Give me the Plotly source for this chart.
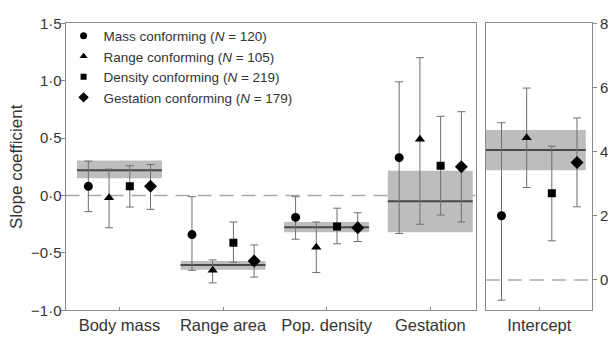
import plotly.graph_objects as go

categories = ["Body mass", "Range area", "Pop. density", "Gestation"]
series_names = ["Mass conforming", "Range conforming", "Density conforming", "Gestation conforming"]
series_n = [120, 105, 219, 179]
symbols = ["circle", "triangle-up", "square", "diamond"]
marker_sizes = [9, 9, 8, 10]
legend_sizes = [7, 7, 6, 8]

# slope estimates and 95% limits for each series (per category)
mass_est = [0.08, -0.34, -0.19, 0.33]
mass_lo = [-0.14, -0.65, -0.38, -0.33]
mass_hi = [0.30, -0.01, -0.01, 0.99]

range_est = [-0.02, -0.65, -0.45, 0.49]
range_lo = [-0.28, -0.76, -0.67, -0.25]
range_hi = [0.23, -0.56, -0.23, 1.20]

density_est = [0.08, -0.41, -0.27, 0.26]
density_lo = [-0.10, -0.58, -0.42, -0.17]
density_hi = [0.26, -0.23, -0.11, 0.69]

gest_est = [0.08, -0.57, -0.28, 0.25]
gest_lo = [-0.12, -0.71, -0.40, -0.23]
gest_hi = [0.27, -0.43, -0.15, 0.73]

# overall (all species) estimate and band
overall_mean = [0.22, -0.605, -0.275, -0.05]
overall_lo = [0.15, -0.645, -0.32, -0.32]
overall_hi = [0.305, -0.57, -0.23, 0.215]

# intercepts (right panel)
intercept_est = [2.0, 4.43, 2.7, 3.66]
intercept_lo = [-0.63, 2.88, 1.22, 2.28]
intercept_hi = [4.9, 5.98, 4.17, 5.05]
intercept_mean = 4.05
intercept_band = [3.42, 4.67]

left_ticks = [1.5, 1.0, 0.5, 0.0, -0.5, -1.0]
left_ticktext = ["1·5", "1·0", "0·5", "0·0", "−0·5", "−1·0"]
right_ticks = [0, 2, 4, 6, 8]

est = [mass_est, range_est, density_est, gest_est]
lo = [mass_lo, range_lo, density_lo, gest_lo]
hi = [mass_hi, range_hi, density_hi, gest_hi]
offsets = [-0.3, -0.1, 0.1, 0.3]

FONT = "Liberation Sans, Arial, sans-serif"
TXT = "#333333"
AX = "#8a8a8a"
ERR = "#6e6e6e"

fig = go.Figure()

# shapes: bands, zero dashed line, mean lines
shapes = []
for i in range(len(categories)):
    c = i + 1
    shapes.append(dict(type="rect", xref="x", yref="y", x0=c - 0.41, x1=c + 0.41,
                       y0=overall_lo[i], y1=overall_hi[i], fillcolor="#bdbdbd",
                       line=dict(width=0), layer="below"))
shapes.append(dict(type="rect", xref="x2", yref="y2", x0=1 - 0.43, x1=1 + 0.37,
                   y0=intercept_band[0], y1=intercept_band[1], fillcolor="#bdbdbd",
                   line=dict(width=0), layer="below"))
shapes.append(dict(type="line", xref="x domain", yref="y", x0=0, x1=1, y0=0, y1=0,
                   line=dict(color="#a8a8a8", width=1.5, dash="14px,8px"), layer="below"))
shapes.append(dict(type="line", xref="x2 domain", yref="y2", x0=0, x1=1, y0=0, y1=0,
                   line=dict(color="#a8a8a8", width=1.5, dash="14px,8px"), layer="below"))
for i in range(len(categories)):
    c = i + 1
    shapes.append(dict(type="line", xref="x", yref="y", x0=c - 0.41, x1=c + 0.41,
                       y0=overall_mean[i], y1=overall_mean[i],
                       line=dict(color="#484848", width=2), layer="below"))
shapes.append(dict(type="line", xref="x2", yref="y2", x0=1 - 0.43, x1=1 + 0.37,
                   y0=intercept_mean, y1=intercept_mean,
                   line=dict(color="#484848", width=2), layer="below"))

for s in range(4):
    xs = [i + 1 + offsets[s] for i in range(len(categories))]
    ys = est[s]
    plus = [h - y for h, y in zip(hi[s], ys)]
    minus = [y - l for l, y in zip(lo[s], ys)]
    fig.add_trace(go.Scatter(
        x=xs, y=ys, mode="markers", xaxis="x", yaxis="y",
        showlegend=False,
        marker=dict(symbol=symbols[s], size=marker_sizes[s], color="black"),
        error_y=dict(type="data", symmetric=False, array=plus, arrayminus=minus,
                     color=ERR, thickness=1, width=4),
    ))
    fig.add_trace(go.Scatter(
        x=[1 + offsets[s]], y=[intercept_est[s]], mode="markers", xaxis="x2", yaxis="y2",
        showlegend=False,
        marker=dict(symbol=symbols[s], size=marker_sizes[s], color="black"),
        error_y=dict(type="data", symmetric=False,
                     array=[intercept_hi[s] - intercept_est[s]],
                     arrayminus=[intercept_est[s] - intercept_lo[s]],
                     color=ERR, thickness=1, width=4),
    ))

# legend entries
for s in range(4):
    fig.add_trace(go.Scatter(
        x=[None], y=[None], mode="markers", xaxis="x", yaxis="y",
        name=f"{series_names[s]} (<i>N</i> = {series_n[s]})",
        showlegend=True,
        marker=dict(symbol=symbols[s], size=legend_sizes[s], color="black"),
    ))

W, H = 608, 346
x1d = [66 / W, 479 / W]
x2d = [489 / W, 596 / W]
yd = [(H - 317) / H, (H - 15) / H]

fig.update_layout(
    width=W, height=H,
    margin=dict(l=0, r=0, t=0, b=0),
    paper_bgcolor="white", plot_bgcolor="white",
    font=dict(family=FONT, color=TXT, size=14),
    shapes=shapes,
    showlegend=True,
    legend=dict(x=64 / W, y=1 - 12 / H, xanchor="left", yanchor="top",
                bgcolor="rgba(0,0,0,0)", font=dict(size=13.5, color=TXT),
                itemwidth=30, traceorder="normal", tracegroupgap=0),
    xaxis=dict(domain=x1d, range=[0.48, 4.44], tickvals=[1, 2, 3, 4], ticktext=categories,
               showline=True, mirror=True, linecolor=AX, linewidth=1, showgrid=False,
               zeroline=False, ticks="inside", ticklen=3, tickcolor=AX,
               tickfont=dict(size=16.5, color=TXT), anchor="y"),
    yaxis=dict(domain=yd, range=[-1.0, 1.5], tickvals=left_ticks, ticktext=left_ticktext,
               showline=True, mirror=True, linecolor=AX, linewidth=1, showgrid=False,
               zeroline=False, ticks="outside", ticklen=4, tickcolor=AX,
               tickfont=dict(size=15, color=TXT), anchor="x", ticklabelstandoff=-4,
               title=dict(text="Slope coefficient", font=dict(size=17, color=TXT), standoff=4)),
    xaxis2=dict(domain=x2d, range=[0.575, 1.42], tickvals=[1], ticktext=["Intercept"],
                showline=True, mirror=True, linecolor=AX, linewidth=1, showgrid=False,
                zeroline=False, ticks="inside", ticklen=3, tickcolor=AX,
                tickfont=dict(size=16.5, color=TXT), anchor="y2"),
    yaxis2=dict(domain=yd, range=[-0.95, 8], tickvals=right_ticks, side="right",
                showline=True, mirror=True, linecolor=AX, linewidth=1, showgrid=False,
                zeroline=False, ticks="outside", ticklen=4, tickcolor=AX,
                tickfont=dict(size=15, color=TXT), anchor="x2"),
)

fig.write_html("out.html")
